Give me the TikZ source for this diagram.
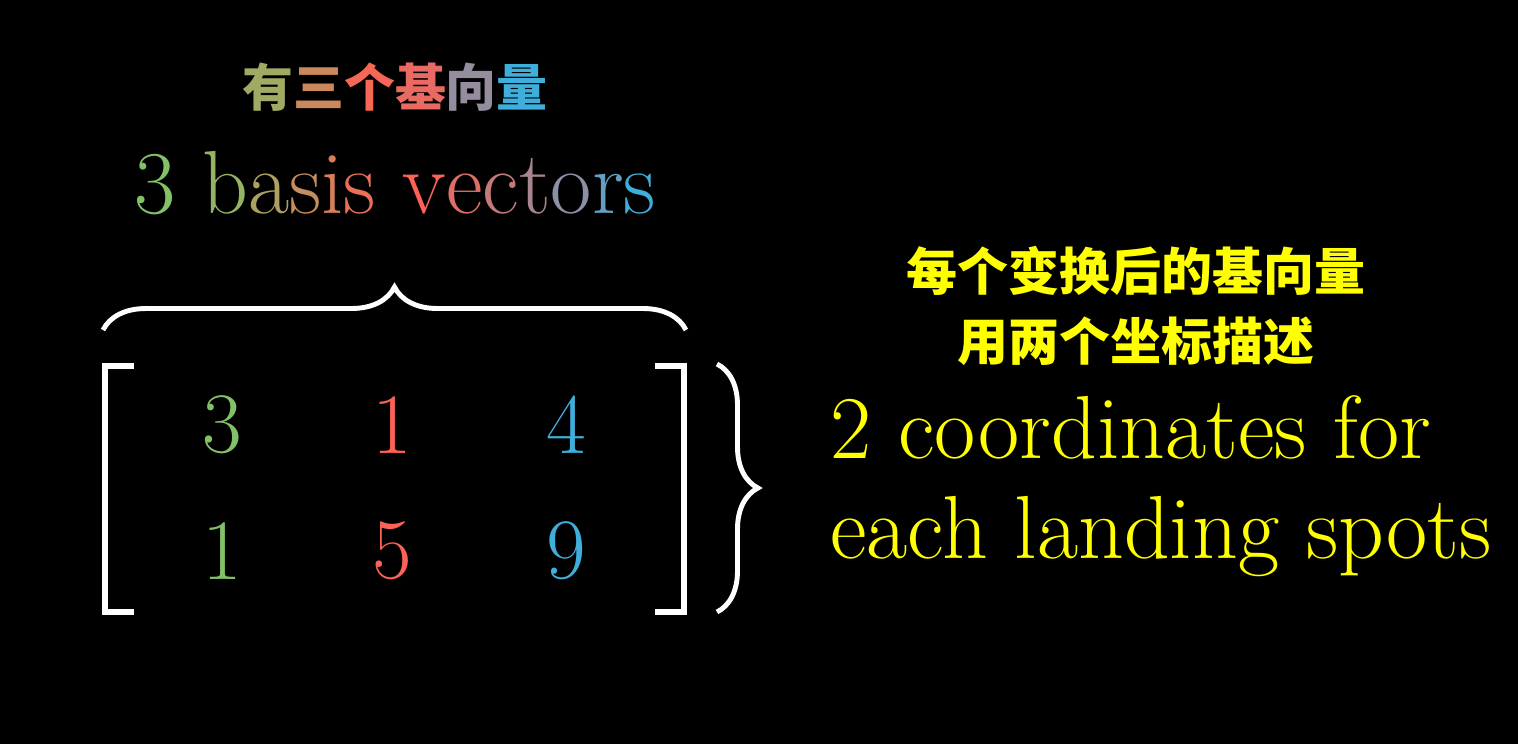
\documentclass[tikz,border=0pt]{standalone}
\usepackage{fontspec}
\usepackage{xcolor}
\usepackage{tikz}
\usetikzlibrary{
  positioning,
  calc,
  decorations.pathreplacing
}
\newfontfamily\cjk{Noto Sans CJK SC}
\definecolor{bvGreen}{HTML}{83C167}
\definecolor{bvRed}{HTML}{FC6255}
\definecolor{bvBlue}{HTML}{40AEDA}
\definecolor{bvYellow}{HTML}{FFFF00}
\newcommand{\gc}[2]{\textcolor{#1}{#2}}
\tikzset{
  entry/.style={font=\fontsize{49}{58}\selectfont, inner sep=0pt, anchor=center},
  entext/.style={font=\fontsize{51}{60}\selectfont, inner sep=0pt, anchor=base},
  cntext/.style={font=\cjk\bfseries\fontsize{29}{35}\selectfont, inner sep=0pt, align=center},
  bracket/.style={draw=white, line width=3.4pt},
  bvbrace/.style={draw=white, line width=2.8pt, decorate,
    decoration={brace, amplitude=#1}}
}

\begin{document}
\begin{tikzpicture}[x=0.02cm, y=-0.02cm]
  % background, 1518 x 744
  \fill[black] (0,0) rectangle (1518,744);
  \useasboundingbox (0,0) rectangle (1518,744);

  % titles above the matrix
  \node[cntext] (cnTitle) at (395,87)
    {\gc{bvGreen!75!bvRed}{有}\gc{bvGreen!40!bvRed}{三}\gc{bvRed!95!bvGreen}{个}\gc{bvRed!90!bvBlue}{基}\gc{bvRed!45!bvBlue}{向}\gc{bvBlue}{量}};
  \node[entext] (enTitle) at (395,213)
    {\gc{bvGreen}{3} \gc{bvGreen!85!bvRed}{b}\gc{bvGreen!65!bvRed}{a}\gc{bvGreen!45!bvRed}{s}\gc{bvGreen!30!bvRed}{i}\gc{bvGreen!15!bvRed}{s}
     \gc{bvRed}{v}\gc{bvRed!85!bvBlue}{e}\gc{bvRed!70!bvBlue}{c}\gc{bvRed!55!bvBlue}{t}\gc{bvRed!40!bvBlue}{o}\gc{bvRed!20!bvBlue}{r}\gc{bvBlue}{s}};

  % matrix entries
  \node[entry, text=bvGreen] (m11) at (222,425) {3};
  \node[entry, text=bvRed]   (m12) at (392,425) {1};
  \node[entry, text=bvBlue]  (m13) at (566,425) {4};
  \node[entry, text=bvGreen] (m21) at (222,551) {1};
  \node[entry, text=bvRed]   (m22) at (392,551) {5};
  \node[entry, text=bvBlue]  (m23) at (566,551) {9};

  % brackets
  \coordinate (lbTop) at (105,366);
  \coordinate (lbBot) at (105,612);
  \coordinate (rbTop) at (684,366);
  \coordinate (rbBot) at (684,612);
  \draw[bracket] ($(lbTop)+(29,0)$) -- (lbTop) -- (lbBot) -- ($(lbBot)+(29,0)$);
  \draw[bracket] ($(rbTop)+(-29,0)$) -- (rbTop) -- (rbBot) -- ($(rbBot)+(-29,0)$);

  % braces
  \coordinate (tbL) at (103,330);
  \coordinate (tbR) at (686,330);
  \coordinate (rbrT) at (717,364);
  \coordinate (rbrB) at (717,612);
  \draw[bvbrace=0.86cm] (tbL) -- (tbR);
  \draw[bvbrace=0.82cm] (rbrT) -- (rbrB);

  % notes on the right
  \node[cntext, text=bvYellow] (cnNote) at (1136,306)
    {每个变换后的基向量\\[5pt]用两个坐标描述};
  \node[entext, text=bvYellow, anchor=base west] (enNote1) at (830,458) {2 coordinates for};
  \node[entext, text=bvYellow, anchor=base west] (enNote2) at (830,558) {each landing spots};
\end{tikzpicture}
\end{document}
